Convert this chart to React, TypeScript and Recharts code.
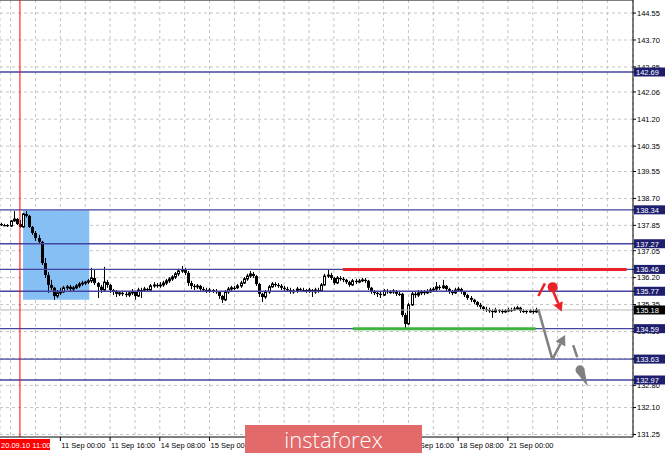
import React from 'react';
import {
  ComposedChart,
  Bar,
  XAxis,
  YAxis,
  CartesianGrid,
  ReferenceLine,
  ReferenceArea,
  ReferenceDot,
} from 'recharts';

const FONT = '"Liberation Sans", Arial, sans-serif';

// Hourly candles
const firstOpen = 137.89;
const closes = [
  137.86, 137.86, 137.83, 137.99, 138.05, 137.89, 137.80, 138.21, 138.15, 137.80,
  137.61, 137.45, 137.33, 136.66, 136.28, 135.97, 135.88, 135.62, 135.72, 135.75,
  135.88, 135.91, 135.84, 135.88, 135.94, 136.00, 136.03, 136.06, 136.10, 136.19,
  136.03, 135.91, 135.81, 136.06, 135.97, 135.81, 135.75, 135.69, 135.72, 135.69,
  135.65, 135.72, 135.75, 135.62, 135.81, 135.81, 135.84, 135.81, 135.94, 135.97,
  135.94, 135.97, 136.03, 136.10, 136.16, 136.22, 136.32, 136.41, 136.44, 136.35,
  136.03, 135.94, 135.91, 135.94, 135.84, 135.81, 135.78, 135.81, 135.78, 135.75,
  135.62, 135.50, 135.75, 135.84, 135.88, 135.88, 135.94, 136.03, 136.16, 136.25,
  136.32, 136.25, 136.00, 135.69, 135.59, 135.75, 135.91, 136.00, 135.97, 135.94,
  135.88, 135.84, 135.81, 135.75, 135.78, 135.84, 135.81, 135.81, 135.78, 135.81,
  135.75, 135.81, 135.78, 135.97, 136.25, 136.28, 136.19, 136.03, 136.19, 136.16,
  136.13, 136.06, 135.97, 136.10, 136.06, 136.10, 136.13, 136.10, 135.88, 135.75,
  135.72, 135.69, 135.65, 135.78, 135.75, 135.75, 135.78, 135.69, 135.69, 135.02,
  134.74, 135.34, 135.69, 135.65, 135.72, 135.75, 135.72, 135.75, 135.81, 135.84,
  135.91, 135.88, 135.94, 135.84, 135.75, 135.72, 135.81, 135.84, 135.75, 135.65,
  135.56, 135.50, 135.43, 135.34, 135.28, 135.21, 135.18, 135.15, 135.12, 135.18,
  135.15, 135.12, 135.15, 135.18, 135.18, 135.21, 135.25, 135.15, 135.15, 135.12,
  135.15, 135.12, 135.18,
];
const highs = [
  137.93, 137.90, 137.89, 138.02, 138.30, 138.08, 138.02, 138.24, 138.30, 138.18,
  137.83, 137.67, 137.55, 137.36, 136.82, 136.38, 136.13, 135.91, 135.81, 135.88,
  135.94, 135.97, 135.97, 135.94, 136.00, 136.06, 136.10, 136.10, 136.16, 136.51,
  136.44, 136.06, 135.97, 136.54, 136.13, 136.00, 135.84, 135.81, 135.78, 135.78,
  135.75, 135.78, 135.84, 135.78, 135.88, 135.88, 135.91, 135.88, 136.00, 136.06,
  136.03, 136.06, 136.10, 136.16, 136.22, 136.28, 136.38, 136.48, 136.57, 136.51,
  136.41, 136.10, 136.00, 136.00, 135.97, 135.91, 135.88, 135.88, 135.84, 135.84,
  135.78, 135.65, 135.81, 135.91, 135.94, 135.94, 136.00, 136.10, 136.22, 136.32,
  136.41, 136.38, 136.28, 136.03, 135.72, 135.81, 135.97, 136.06, 136.06, 136.03,
  136.00, 135.94, 135.91, 135.88, 135.84, 135.91, 135.88, 135.88, 135.84, 135.88,
  135.84, 135.88, 135.88, 136.03, 136.32, 136.44, 136.35, 136.22, 136.25, 136.25,
  136.22, 136.16, 136.10, 136.16, 136.16, 136.16, 136.19, 136.19, 136.13, 135.91,
  135.81, 135.78, 135.75, 135.84, 135.84, 135.81, 135.84, 135.81, 135.78, 135.72,
  135.09, 135.40, 135.78, 135.78, 135.81, 135.81, 135.81, 135.84, 135.88, 135.91,
  136.06, 135.97, 136.13, 135.97, 135.88, 135.81, 135.88, 135.91, 135.88, 135.78,
  135.69, 135.62, 135.53, 135.46, 135.40, 135.31, 135.28, 135.25, 135.21, 135.25,
  135.21, 135.21, 135.21, 135.25, 135.25, 135.28, 135.31, 135.28, 135.21, 135.18,
  135.21, 135.21, 135.25,
];
const lows = [
  137.83, 137.82, 137.80, 137.80, 137.96, 137.86, 137.78, 137.78, 138.10, 137.77,
  137.55, 137.36, 137.26, 136.60, 136.19, 135.72, 135.81, 135.50, 135.56, 135.65,
  135.72, 135.81, 135.78, 135.78, 135.84, 135.88, 135.94, 135.97, 136.00, 136.03,
  135.97, 135.56, 135.72, 135.78, 135.88, 135.72, 135.65, 135.59, 135.62, 135.62,
  135.59, 135.59, 135.65, 135.50, 135.59, 135.56, 135.75, 135.75, 135.78, 135.88,
  135.88, 135.88, 135.91, 135.97, 136.03, 136.10, 136.16, 136.25, 136.35, 136.28,
  135.94, 135.84, 135.81, 135.84, 135.78, 135.75, 135.72, 135.72, 135.72, 135.69,
  135.53, 135.40, 135.46, 135.69, 135.78, 135.81, 135.84, 135.88, 136.00, 136.10,
  136.19, 136.19, 135.94, 135.59, 135.43, 135.53, 135.69, 135.88, 135.91, 135.88,
  135.81, 135.78, 135.75, 135.69, 135.69, 135.72, 135.75, 135.75, 135.72, 135.72,
  135.59, 135.69, 135.72, 135.75, 135.94, 136.19, 136.13, 135.97, 136.00, 136.10,
  136.06, 136.00, 135.91, 135.94, 136.00, 136.03, 136.06, 136.03, 135.81, 135.69,
  135.65, 135.59, 135.56, 135.62, 135.69, 135.69, 135.69, 135.62, 135.62, 134.96,
  134.59, 134.71, 135.31, 135.56, 135.59, 135.65, 135.65, 135.69, 135.72, 135.75,
  135.78, 135.81, 135.84, 135.78, 135.69, 135.65, 135.69, 135.75, 135.69, 135.59,
  135.50, 135.43, 135.37, 135.28, 135.21, 135.15, 135.12, 135.09, 134.93, 135.09,
  135.09, 135.06, 135.09, 135.12, 135.12, 135.15, 135.18, 135.09, 135.09, 135.06,
  135.09, 135.06, 135.09,
];

// Axes
const yTicks = [144.55, 143.7, 142.85, 142.06, 141.2, 140.35, 139.55, 138.7, 137.85, 137.05, 136.2, 135.35, 134.5, 133.65, 132.8, 132.1, 131.25];
const Y_DOMAIN: [number, number] = [131.171, 144.962];
const X_DOMAIN: [number, number] = [-0.418, 203.25];
const gridTicks = [3, 11, 19, 27, 35, 43, 51, 59, 67, 75, 83, 91, 99, 107, 115, 123, 131, 139, 147, 155, 163, 171, 179, 187, 195];
const labelTicks = [19, 35, 51, 67, 83, 99, 115, 131, 147, 163];
const labelTexts = ['11 Sep 00:00', '11 Sep 16:00', '14 Sep 08:00', '15 Sep 00:00', '15 Sep 16:00', '16 Sep 08:00', '17 Sep 00:00', '17 Sep 16:00', '18 Sep 08:00', '21 Sep 00:00'];

// Levels
const levelValues = [142.69, 138.34, 137.27, 136.46, 135.77, 134.59, 133.63, 132.97];
const currentPrice = 135.18;
const markerIndex = 6;
const markerLabel = '20.09.10 11:00';

// Zone & forecast annotations
const zone = { x1: 7.0, x2: 28.3, y1: 135.5, y2: 138.33 };
const resistance = { x1: 109.9, x2: 201.2, y: 136.46 };
const support = { x1: 113.1, x2: 171.9, y: 134.59 };
const greyPath = [
  { x: 172.8, y: 135.2 },
  { x: 177.3, y: 133.62 },
  { x: 181.4, y: 134.39 },
];
const greyDash = [
  { x: 184.0, y: 134.07 },
  { x: 185.3, y: 133.69 },
];
const greyDrop = [
  { x: 186.2, y: 133.29 },
  { x: 188.7, y: 132.76 },
];
const redTick = [
  { x: 172.8, y: 135.62 },
  { x: 174.9, y: 136.02 },
];
const redDot = { x: 177.4, y: 135.9 };
const redArrow = [
  { x: 177.6, y: 135.76 },
  { x: 180.3, y: 135.13 },
];

const axisTicks = [...yTicks, currentPrice, ...levelValues];

const candles = closes.map((c, i) => ({
  i,
  open: i === 0 ? firstOpen : closes[i - 1],
  close: c,
  high: highs[i],
  low: lows[i],
  range: [lows[i], highs[i]],
}));

const Candle = (props: any) => {
  const { x, y, width, height, payload } = props;
  if (!payload) return null;
  const { open, close, high, low } = payload;
  const cx = Math.round(x + width / 2);
  const k = high - low > 0 ? height / (high - low) : 0;
  const yv = (v: number) => y + (high - v) * k;
  const top = yv(Math.max(open, close));
  const bot = yv(Math.min(open, close));
  const bull = close > open;
  return (
    <g>
      <rect x={cx} y={y} width={1} height={Math.max(height, 1)} fill="#000" />
      {bull ? (
        <rect x={cx - 0.5} y={top} width={2} height={Math.max(bot - top, 1)} fill="#fff" stroke="#000" strokeWidth={1} />
      ) : (
        <rect x={cx - 1} y={top} width={3} height={Math.max(bot - top, 1.2)} fill="#000" />
      )}
    </g>
  );
};

const XTick = (props: any) => {
  const { x, y, payload } = props;
  const idx = labelTicks.indexOf(payload.value);
  if (idx < 0) return <g />;
  return (
    <g>
      <line x1={x} x2={x} y1={y - 2} y2={y + 2} stroke="#000" strokeWidth={1} />
      <text x={x + 1} y={y + 9} fontSize={7.5} fill="#000" fontFamily={FONT} textAnchor="start">
        {labelTexts[idx]}
      </text>
    </g>
  );
};

const YTick = (props: any) => {
  const { x, y, payload } = props;
  const v = payload.value as number;
  const isLevel = levelValues.indexOf(v) >= 0;
  const isCurrent = v === currentPrice;
  if (isLevel || isCurrent) {
    const bx = x - 3;
    return (
      <g>
        <rect x={bx} y={y - 4.5} width={31} height={9} fill={isCurrent ? '#000' : '#1e1e6e'} />
        <text x={bx + 2} y={y + 3} fontSize={7.5} fill="#fff" fontFamily={FONT}>
          {v.toFixed(2)}
        </text>
      </g>
    );
  }
  return (
    <text x={x} y={y + 2.8} fontSize={7.5} fill="#000" fontFamily={FONT}>
      {v.toFixed(2)}
    </text>
  );
};

const markerLabelContent = (props: any) => {
  const vb = props.viewBox;
  if (!vb) return null;
  const x = Math.max(vb.x - 20, 0);
  const y = vb.y + vb.height + 2;
  return (
    <g>
      <rect x={x} y={y} width={50} height={11} fill="#ff0000" />
      <text x={x + 1} y={y + 8.5} fontSize={7.5} fill="#fff" fontFamily={FONT}>
        {markerLabel}
      </text>
    </g>
  );
};

const plainSeg = (color: string, w: number) => (p: any) => (
  <line x1={p.x1} y1={p.y1} x2={p.x2} y2={p.y2} stroke={color} strokeWidth={w} strokeLinecap="butt" />
);

const arrowSeg = (color: string, w: number, head: number) => (p: any) => {
  const { x1, y1, x2, y2 } = p;
  const ang = Math.atan2(y2 - y1, x2 - x1);
  const bx = x2 - head * Math.cos(ang);
  const by = y2 - head * Math.sin(ang);
  const hw = head * 0.55;
  const px = -Math.sin(ang) * hw;
  const py = Math.cos(ang) * hw;
  return (
    <g>
      <line x1={x1} y1={y1} x2={bx} y2={by} stroke={color} strokeWidth={w} />
      <polygon points={`${x2},${y2} ${bx + px},${by + py} ${bx - px},${by - py}`} fill={color} />
    </g>
  );
};

const dropSeg = (color: string, r: number) => (p: any) => {
  const { x1, y1, x2, y2 } = p;
  const ang = Math.atan2(y2 - y1, x2 - x1);
  const px = -Math.sin(ang) * r;
  const py = Math.cos(ang) * r;
  return (
    <g>
      <circle cx={x1} cy={y1} r={r} fill={color} />
      <polygon points={`${x1 + px},${y1 + py} ${x2},${y2} ${x1 - px},${y1 - py}`} fill={color} />
    </g>
  );
};

export default function App() {
  const levelColor = '#4545a2';
  return (
    <div style={{ position: 'fixed', left: 0, top: 0, width: 665, height: 453, background: '#fff', overflow: 'hidden' }}>
      <ComposedChart width={665} height={453} data={candles} margin={{ top: 0, right: 0, bottom: 0, left: 0 }}>
        <CartesianGrid stroke="#c4c4c4" strokeDasharray="3 3" horizontalValues={yTicks} />
        <XAxis
          type="number"
          dataKey="i"
          domain={X_DOMAIN}
          allowDataOverflow
          ticks={gridTicks}
          interval={0}
          height={16}
          tickSize={0}
          tickMargin={2}
          tickLine={false}
          axisLine={{ stroke: '#000' }}
          tick={<XTick />}
        />
        <YAxis
          orientation="right"
          type="number"
          width={32}
          domain={Y_DOMAIN}
          allowDataOverflow
          ticks={axisTicks}
          interval={0}
          tickSize={3}
          tickMargin={1}
          axisLine={{ stroke: '#000' }}
          tickLine={{ stroke: '#000' }}
          tick={<YTick />}
        />
        <ReferenceLine y={Y_DOMAIN[1]} stroke="#555" strokeWidth={1.5} />
        <ReferenceArea x1={zone.x1} x2={zone.x2} y1={zone.y1} y2={zone.y2} fill="#86bff4" fillOpacity={1} stroke="none" />
        <ReferenceLine y={currentPrice} stroke="#b8b8b8" strokeWidth={1} />
        {levelValues.map((v) => (
          <ReferenceLine key={v} y={v} stroke={levelColor} strokeWidth={1.4} />
        ))}
        <Bar dataKey="range" barSize={3} shape={<Candle />} isAnimationActive={false} />
        <ReferenceLine
          segment={[{ x: resistance.x1, y: resistance.y }, { x: resistance.x2, y: resistance.y }]}
          stroke="#ea2228"
          strokeWidth={3}
        />
        <ReferenceLine
          segment={[{ x: support.x1, y: support.y }, { x: support.x2, y: support.y }]}
          stroke="#3cb53c"
          strokeWidth={3}
        />
        <ReferenceLine x={markerIndex} stroke="#ff0000" strokeWidth={1} label={markerLabelContent} />
        <ReferenceLine segment={[greyPath[0], greyPath[1]]} shape={plainSeg('#808080', 2.5)} />
        <ReferenceLine segment={[greyPath[1], greyPath[2]]} shape={arrowSeg('#808080', 2.5, 10)} />
        <ReferenceLine segment={[greyDash[0], greyDash[1]]} shape={plainSeg('#808080', 2.5)} />
        <ReferenceLine segment={[greyDrop[0], greyDrop[1]]} shape={dropSeg('#808080', 4.5)} />
        <ReferenceLine segment={[redTick[0], redTick[1]]} shape={plainSeg('#ea2228', 2.5)} />
        <ReferenceDot x={redDot.x} y={redDot.y} r={5} fill="#ea2228" stroke="none" />
        <ReferenceLine segment={[redArrow[0], redArrow[1]]} shape={arrowSeg('#ea2228', 2.5, 9)} />
      </ComposedChart>
      <div
        style={{
          position: 'absolute',
          left: 245,
          top: 425,
          width: 177,
          height: 28,
          background: '#e26a6a',
          color: '#fff',
          fontFamily: '"Open Sans", Roboto, sans-serif',
          fontWeight: 300,
          fontSize: 22,
          lineHeight: '28px',
          textAlign: 'center',
        }}
      >
        instaforex
      </div>
    </div>
  );
}
